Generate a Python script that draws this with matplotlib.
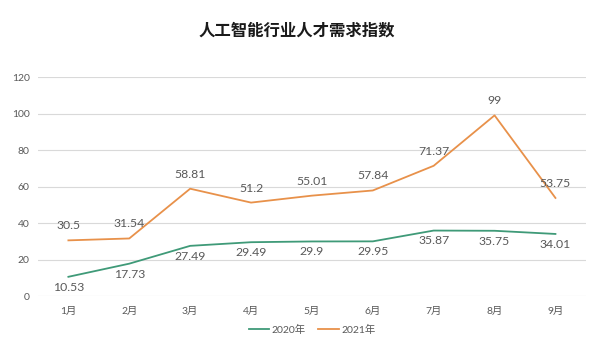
import matplotlib
matplotlib.use("Agg")
import matplotlib.pyplot as plt

months = ["1月", "2月", "3月", "4月", "5月", "6月", "7月", "8月", "9月"]
y2020 = [10.53, 17.73, 27.49, 29.49, 29.9, 29.95, 35.87, 35.75, 34.01]
y2021 = [30.5, 31.54, 58.81, 51.2, 55.01, 57.84, 71.37, 99, 53.75]
yticks = [0, 20, 40, 60, 80, 100, 120]

plt.rcParams['font.family'] = ['Lato', 'Noto Sans CJK SC', 'DejaVu Sans']

c2020 = "#3f9a78"
c2021 = "#e8914a"
txt = "#595959"

fig = plt.figure(figsize=(5.93, 3.44), dpi=100)
ax = fig.add_axes([0.064, 0.1395, 0.924, 0.6365])

x = list(range(len(months)))
ax.plot(x, y2020, color=c2020, lw=1.3, label="2020年")
ax.plot(x, y2021, color=c2021, lw=1.3, label="2021年")

for xi, v in zip(x, y2021):
    ax.annotate(f"{v:g}", (xi, v), xytext=(0, 10.5), textcoords="offset points",
                ha="center", va="center", fontsize=8.8, color=txt)
for xi, v in zip(x, y2020):
    ax.annotate(f"{v:g}", (xi, v), xytext=(0, -7.5), textcoords="offset points",
                ha="center", va="center", fontsize=8.8, color=txt)

ax.set_xlim(-0.5, len(months) - 0.5)
ax.set_ylim(0, 120)
ax.set_yticks(yticks)
ax.set_xticks(x)
ax.set_xticklabels(months)
ax.tick_params(length=0, labelsize=7.5, colors=txt, pad=8)
ax.tick_params(axis="y", pad=6)
ax.grid(axis="y", color="#d9d9d9", lw=0.8)
ax.set_axisbelow(True)
for s in ax.spines.values():
    s.set_visible(False)

fig.text(0.5, 0.91, "人工智能行业人才需求指数", ha="center", va="center",
         fontsize=11.8, fontweight="bold", color="#1a1a1a",
         family=['Noto Sans CJK SC', 'DejaVu Sans'])

ax.legend(loc="center", bbox_to_anchor=(0.5, -0.155), ncol=2, frameon=False,
          fontsize=7.5, labelcolor=txt, handlelength=2.0, handletextpad=0.2,
          columnspacing=1.2)

fig.savefig("out.png", dpi=100)
